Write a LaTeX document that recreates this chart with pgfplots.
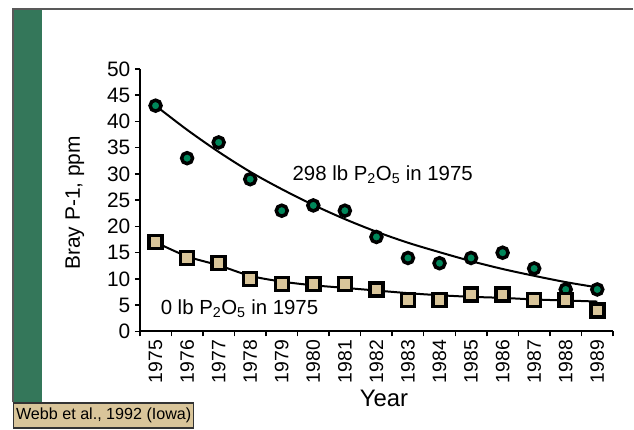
\documentclass[border=0pt]{standalone}
\usepackage{pgfplots}
\pgfplotsset{compat=1.18}
\usepackage{fontspec}
\setmainfont{Liberation Sans}
\definecolor{barGreen}{HTML}{34775A}
\definecolor{dotGreen}{HTML}{00875A}
\definecolor{tanfill}{HTML}{D9C59A}
\begin{document}
\begin{tikzpicture}[x=1bp,y=1bp]
\path (-140,-98) rectangle (494,332);
\fill[barGreen] (-126,-71) rectangle (-98,323);
\draw[black!65, line width=2bp] (-127,-71) -- (-127,323) -- (494,323);
\node[draw=black!80, line width=1.2bp, fill=tanfill, anchor=north west, inner xsep=2.5bp, inner ysep=0bp, minimum height=25bp, font=\fontsize{16.2}{18}\selectfont] at (-127,-71) {Webb et al., 1992 (Iowa)};
\begin{axis}[
  at={(0,0)}, anchor=south west,
  scale only axis, width=474bp, height=263bp,
  xmin=-0.5, xmax=14.5, ymin=0, ymax=50,
  axis x line*=bottom, axis y line*=left,
  axis line style={-, line width=2bp, black},
  tick align=outside,
  major tick length=5bp, minor tick length=5bp,
  ytick={0,5,...,50},
  xtick={0,...,14},
  xticklabels={1975,1976,1977,1978,1979,1980,1981,1982,1983,1984,1985,1986,1987,1988,1989},
  minor xtick={-0.5,0.5,...,14.5},
  major x tick style={draw=none},
  x tick style={black, line width=1.5bp},
  y tick style={black, line width=1.5bp},
  /pgf/number format/assume math mode=true,
  yticklabel style={font=\fontsize{21}{23}\selectfont, xshift=-1bp},
  xticklabel style={font=\fontsize{19.5}{21}\selectfont, rotate=90, anchor=east},
  ylabel={Bray P-1, ppm},
  xlabel={Year},
  ylabel style={font=\fontsize{21}{23}\selectfont, at={(axis description cs:-0.137,0.49)}, anchor=center},
  xlabel style={font=\fontsize{24}{26}\selectfont, at={(axis description cs:0.516,-0.255)}, anchor=center},
  clip=false,
]
\addplot[black, line width=2bp, smooth, no markers] coordinates {
(0,43) (1,38.4) (2,34.2) (3,30.4) (4,27.1) (5,24.1) (6,21.4) (7,19.0) (8,16.9) (9,15.1) (10,13.4) (11,11.9) (12,10.6) (13,9.4) (14,8.4)};
\addplot[black, line width=2bp, smooth, no markers] coordinates {
(0,17) (1,14.3) (2,12.6) (3,10.6) (4,9.5) (5,8.8) (6,8.3) (7,7.8) (8,7.3) (9,6.9) (10,6.6) (11,6.4) (12,6.1) (13,5.9) (14,5.7)};
\addplot[only marks, mark=*, mark size=5.5bp, mark options={fill=dotGreen, draw=black, line width=3.5bp}] coordinates {
(0,43) (1,33) (2,36) (3,29) (4,23) (5,24) (6,23) (7,18) (8,14) (9,13) (10,14) (11,15) (12,12) (13,8) (14,8)};
\addplot[only marks, mark=square*, mark size=6.5bp, mark options={fill=tanfill, draw=black, line width=3.5bp}] coordinates {
(0,17) (1,14) (2,13) (3,10) (4,9) (5,9) (6,9) (7,8) (8,6) (9,6) (10,7) (11,7) (12,6) (13,6) (14,4)};
\node[font=\fontsize{20.5}{22}\selectfont] at (axis cs:7.2,29.8) {298 lb P\textsubscript{2}O\textsubscript{5} in 1975};
\node[font=\fontsize{20.5}{22}\selectfont] at (axis cs:2.66,4.4) {0 lb P\textsubscript{2}O\textsubscript{5} in 1975};
\end{axis}
\end{tikzpicture}
\end{document}
